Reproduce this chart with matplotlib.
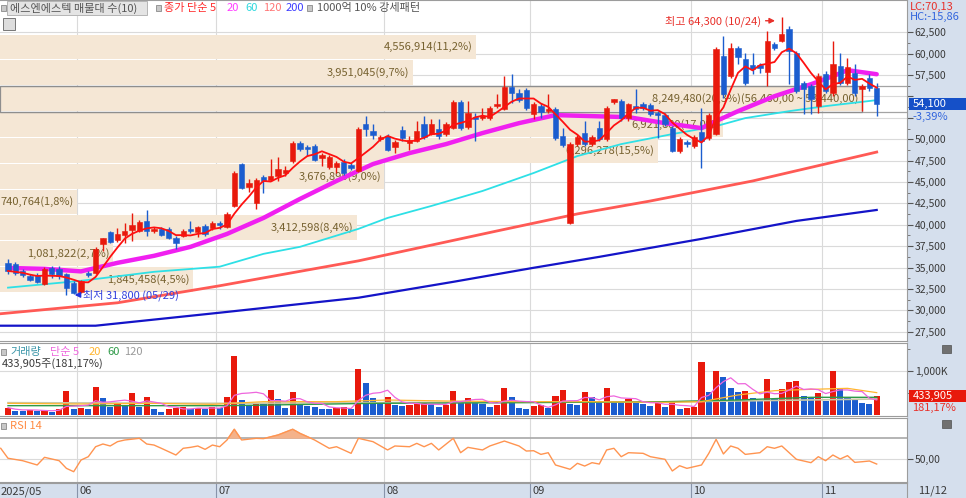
import numpy as np
import pandas as pd
import matplotlib
matplotlib.use('Agg')
import matplotlib.pyplot as plt
from matplotlib.patches import Rectangle

plt.rcParams['font.family'] = ['Noto Sans CJK KR', 'DejaVu Sans']

W, H = 966, 498

# ---- daily candles (2025/05/19 ~ 11/12) ----
opens = [35550, 35450, 34600, 34050, 34150, 33100, 34950, 34850, 34250, 33200,
         32150, 34400, 34400, 37750, 39150, 38250, 38800, 39400, 39300, 40450,
         39300, 39500, 39500, 38450, 38700, 39500, 39150, 39850, 39650, 40200,
         39750, 42200, 47100, 44400, 42550, 45600, 45250, 45700, 46050, 47450,
         49550, 49100, 49200, 47800, 46750, 46750, 47350, 47000, 46300, 51750,
         50950, 50000, 50350, 49100, 51050, 49550, 49800, 51750, 50600, 51200,
         50600, 51300, 54350, 51400, 52600, 52450, 52450, 53850, 53500, 56100,
         55400, 55750, 52950, 53850, 53300, 53500, 50350, 40200, 49450, 50700,
         49450, 51300, 50000, 54350, 54450, 52450, 53850, 54100, 54000, 53050,
         52800, 51300, 48600, 49650, 49200, 50850, 50150, 50600, 59700, 57350,
         60650, 59350, 58650, 58650, 57850, 61100, 61450, 62850, 60050, 56550,
         56200, 53850, 57600, 55400, 58550, 56550, 57700, 55850, 57150, 55950]
highs = [36000, 35650, 34850, 34250, 34400, 35100, 35200, 35200, 34400, 33450,
         33600, 34600, 37400, 38500, 39300, 39650, 40200, 41400, 40550, 41700,
         39750, 39750, 39750, 38700, 39500, 40450, 39850, 40100, 40450, 40450,
         41500, 46300, 47200, 45350, 45450, 45800, 47700, 47900, 46850, 49800,
         49800, 49300, 49450, 48400, 48150, 47450, 47700, 47200, 51400, 52700,
         51750, 50500, 50600, 49900, 51550, 50350, 52100, 52700, 52350, 52350,
         52000, 54550, 54550, 54450, 53050, 53650, 53850, 55250, 57350, 57600,
         55850, 55950, 54350, 54200, 55250, 53750, 51300, 49650, 50500, 52100,
         50500, 52100, 53850, 54700, 54700, 54200, 55850, 54350, 54200, 53300,
         53050, 51550, 50250, 49900, 50500, 53650, 53050, 60750, 62050, 61200,
         60850, 60050, 60050, 58900, 62600, 61350, 64300, 63200, 60300, 56800,
         56450, 57700, 57950, 61450, 60050, 59450, 58750, 56450, 57600, 56550]
lows = [34250, 34150, 33900, 33450, 33200, 33000, 33800, 33700, 31800, 31950,
        32050, 33900, 34250, 36950, 37900, 38000, 37900, 38100, 39150, 38700,
        39050, 38700, 38350, 37200, 38600, 39050, 38600, 38700, 39400, 39500,
        39650, 42100, 44200, 43850, 41850, 43700, 45100, 45100, 45700, 47200,
        48600, 48050, 47450, 46850, 46500, 46050, 45800, 46400, 46150, 50350,
        50000, 49800, 48600, 48400, 49800, 48750, 49650, 50000, 50500, 50000,
        50350, 51200, 51050, 51200, 49800, 52250, 52250, 53650, 53400, 54200,
        54350, 53400, 52350, 52450, 53050, 49900, 49100, 40100, 49200, 49200,
        49200, 49800, 49800, 54100, 52100, 52100, 53050, 53400, 52700, 50150,
        51550, 48500, 48400, 49100, 48950, 46650, 49900, 50500, 54800, 57150,
        58750, 56300, 57600, 57700, 56200, 60400, 61350, 56450, 55400, 52950,
        52950, 53050, 55400, 55050, 56300, 56300, 55050, 53300, 55600, 52700]
closes = [34600, 34400, 34150, 33550, 33350, 34850, 34250, 34050, 32650, 32050,
          33450, 34150, 37200, 38450, 38000, 38950, 39300, 40000, 40350, 39300,
          39500, 38800, 38450, 37900, 39300, 39300, 39750, 38950, 40200, 40000,
          41250, 46050, 44300, 44900, 45250, 45100, 45700, 46500, 46400, 49550,
          48850, 48850, 47550, 48150, 47900, 47200, 46050, 46600, 51200, 51200,
          50500, 50250, 48750, 49650, 50150, 49900, 50950, 50250, 51750, 50350,
          51750, 54350, 51300, 53050, 52350, 52700, 53650, 54100, 56100, 55400,
          54550, 53650, 54100, 53150, 53500, 50150, 49300, 49450, 50250, 49450,
          50250, 50000, 53650, 54700, 52450, 54100, 53500, 53650, 52950, 52800,
          51750, 48600, 50000, 49450, 50250, 49800, 52800, 60500, 55250, 60650,
          59600, 56550, 58200, 58300, 61450, 60650, 62250, 60300, 55600, 55850,
          54700, 57350, 55600, 58750, 56550, 58400, 55400, 56200, 56000, 54100]

# volume, thousand shares
vol_k = [167, 98, 83, 114, 98, 121, 68, 136, 553, 136,
         167, 136, 629, 379, 189, 265, 227, 508, 189, 417,
         129, 76, 136, 152, 189, 136, 167, 129, 174, 167,
         417, 1348, 341, 227, 250, 242, 568, 356, 152, 530,
         250, 212, 189, 136, 129, 152, 189, 129, 1038, 735,
         379, 265, 402, 227, 212, 227, 250, 288, 250, 189,
         227, 553, 303, 379, 303, 250, 189, 227, 606, 402,
         152, 136, 212, 220, 152, 432, 568, 250, 227, 515,
         402, 326, 606, 318, 288, 356, 288, 250, 212, 280,
         189, 288, 136, 167, 189, 1212, 530, 1008, 856, 621,
         530, 545, 379, 326, 811, 356, 583, 758, 773, 432,
         420, 492, 318, 1000, 621, 417, 356, 265, 239.5, 433.905]
prev_vol_k = 136

# moving averages (candle index, price)
ma20_idx = [0, 5, 10, 15, 20, 25, 30, 35, 40, 45, 50, 55, 60, 65, 70, 75, 80, 85, 90,
            95, 97, 100, 105, 110, 113, 115, 119]
ma20_val = [34950, 34850, 34550, 35550, 36370, 37420, 38930, 40800, 43020, 45120,
            47100, 48380, 49430, 50720, 51880, 52820, 52700, 52580, 51880, 51300,
            52120, 53280, 55030, 56430, 57370, 58070, 57600]
ma60_idx = [0, 10, 20, 29, 35, 40, 48, 52, 58, 65, 72, 78, 84, 91, 97, 101, 107, 112, 119]
ma60_val = [32650, 33450, 34500, 35100, 36600, 37420, 39520, 40800, 42200, 43950,
            46050, 48030, 49430, 50600, 51530, 52470, 53280, 53870, 54570]
ma120_idx = [-1, 15, 29, 48, 67, 78, 88, 102, 119]
ma120_val = [29600, 30880, 32870, 35780, 39280, 41270, 42780, 45120, 48500]
ma200_idx = [-1, 12, 29, 48, 61, 72, 81, 95, 108, 119]
ma200_val = [28200, 28200, 29720, 31470, 33330, 34970, 36250, 38350, 40450, 41730]

# volume moving averages (K)
vma20_idx = [0, 10, 20, 28, 35, 45, 52, 60, 70, 80, 90, 95, 100, 105, 110, 115, 119]
vma20_val = [265, 250, 265, 242, 303, 303, 341, 318, 303, 303, 288, 303, 455, 553, 583, 606, 508]
vma60_idx = [0, 30, 50, 70, 90, 100, 110, 119]
vma60_val = [212, 212, 265, 280, 303, 341, 402, 402]
vma120_idx = [0, 30, 60, 90, 119]
vma120_val = [280, 265, 288, 295, 364]

# RSI 14
rsi_idx = [-1, 0, 2, 4, 5, 7, 8, 9, 10, 11, 12, 13, 14, 15, 16, 18, 19, 20, 21, 23,
           24, 25, 26, 27, 28, 29, 30, 31, 32, 34, 35, 37, 39, 40, 41, 42, 44, 45, 47, 48,
           49, 50, 52, 53, 55, 56, 57, 58, 59, 61, 62, 63, 65, 66, 68, 70, 71, 72, 73, 74,
           75, 77, 78, 79, 80, 81, 82, 83, 84, 85, 87, 88, 90, 91, 92, 93, 95, 96, 97, 98,
           99, 100, 101, 103, 104, 105, 106, 108, 110, 111, 112, 113, 114, 115, 116, 117,
           118, 119]
rsi_val = [60.2, 50.7, 48.4, 44.3, 51.6, 48.4, 41.1, 37.9, 49.0, 52.2, 61.7, 64.3, 62.4,
           66.5, 68.1, 69.7, 64.3, 63.3, 60.2, 53.8, 60.2, 61.1, 62.4, 59.2, 63.3, 61.7,
           68.1, 78.3, 68.1, 69.7, 69.4, 72.9, 78.3, 74.4, 71.3, 68.1, 60.2, 61.7, 55.4,
           69.7, 68.1, 66.5, 58.6, 62.4, 61.7, 64.9, 61.7, 64.9, 58.6, 69.7, 56.0, 61.1,
           58.6, 62.4, 67.1, 62.4, 57.6, 57.9, 54.4, 56.0, 44.3, 40.2, 45.9, 43.3, 46.5,
           45.2, 58.6, 60.2, 52.2, 56.0, 55.4, 52.2, 49.7, 38.6, 43.6, 41.1, 44.3, 55.4,
           68.7, 54.8, 62.4, 60.2, 54.4, 56.0, 61.7, 60.2, 62.4, 49.7, 46.5, 52.2, 48.4,
           53.8, 50.0, 53.2, 46.8, 47.4, 48.1, 45.2]

# 매물대 (volume by price), bottom band first
band_vol = [1845458, 1081822, 3412598, 740764, 3676895, 6296278, 6921880, 8249480, 3951045, 4556914]
band_lo, band_step = 32100, 3020
band_range_txt = '56,460,00 ~ 53,440,00'

month_pos = [9.5, 28.5, 51.5, 71.5, 93.5, 111.5]
month_lbl = ['06', '07', '08', '09', '10', '11']
first_lbl, last_lbl = '2025/05', '11/12'
hi_date, lo_date = '10/24', '05/29'

UP, DN = '#E8190C', '#1B5DCF'
GRID = '#DADADA'
TXT = '#3A3A3A'

fig = plt.figure(figsize=(W / 100, H / 100), dpi=100, facecolor='#D5DFED')


def px_ax(left, top, width, height, **kw):
    return fig.add_axes([left / W, 1 - (top + height) / H, width / W, height / H], **kw)


def fig_rect(x0, y0, x1, y1, **kw):
    fig.add_artist(Rectangle((x0 / W, 1 - y1 / H), (x1 - x0) / W, (y1 - y0) / H,
                             transform=fig.transFigure, **kw))


def fig_txt(x, y, s, **kw):
    kw.setdefault('fontsize', 8)
    fig.text(x / W, 1 - y / H, s, va='center', **kw)


fig_rect(0, 0, 907, 483, facecolor='white', edgecolor='none', zorder=-5)

xlim = (-8 / 7.3, (907 - 8) / 7.3)
n = len(closes)
x = np.arange(n)
o, hgh, low, c = map(np.array, (opens, highs, lows, closes))

ax = px_ax(0, 0, 907, 341)
axv = px_ax(0, 343, 907, 73)
axr = px_ax(0, 418, 907, 64)
axd = px_ax(0, 483, 907, 15, facecolor='#D5DFED')

for a in (ax, axv, axr, axd):
    a.set_xlim(*xlim)
    a.set_xticks([])
    a.spines['left'].set_visible(False)
    for s in ('top', 'bottom', 'right'):
        a.spines[s].set_color('#9C9C9C')
    a.set_axisbelow(True)

# ---- price panel ----
ax.set_ylim(26412, 66276)
pt = np.arange(27500, 62501, 2500)
ax.set_yticks(pt)
# labels hidden behind the last-price box are left blank
ax.set_yticklabels(['' if c[-1] - 2200 < v < c[-1] + 1300 else f'{v:,}' for v in pt])
ax.set_yticks(pt[:-1] + 1250, minor=True)
for v in pt:
    ax.axhline(v, color=GRID, lw=0.8, zorder=0)
for a in (ax, axv, axr):
    for m in month_pos:
        a.axvline(m, color=GRID, lw=0.8, zorder=0)

centers = band_lo + band_step * (np.arange(len(band_vol)) + 0.5)
bw = np.array(band_vol) / max(band_vol) * (862 / 7.3)
ax.barh(centers, bw, height=band_step * 0.962, left=xlim[0], color='#F5E7D5', zorder=0.6)
tot = sum(band_vol)
cur = int((c[-1] - band_lo) // band_step)
for k, (cy, w, v) in enumerate(zip(centers, bw, band_vol)):
    lbl = f'{v:,}({v / tot * 100:.1f}%)'.replace('.', ',')
    if k == cur:
        lbl += f'({band_range_txt})'
    ax.text(xlim[0] + w - 0.45, cy, lbl, ha='right', va='center', fontsize=8,
            color='#76612F', zorder=1)
cur_lo = band_lo + cur * band_step
ax.add_patch(Rectangle((xlim[0], cur_lo), bw[cur], band_step, fill=False,
                       edgecolor='#8E8E8E', lw=0.9, zorder=0.7))
ax.axhline(cur_lo, color='#A4A4A4', lw=0.9, zorder=0.65)
ax.axhline(cur_lo + band_step, color='#A4A4A4', lw=0.9, zorder=0.65)

ax.plot(ma200_idx, ma200_val, color='#1414C8', lw=1.6, zorder=2)
ax.plot(ma120_idx, ma120_val, color='#FF5A55', lw=2.0, zorder=2)
ax.plot(ma60_idx, ma60_val, color='#2EE0E6', lw=1.3, zorder=2)
ax.plot(ma20_idx, ma20_val, color='#F020F0', lw=3.2, zorder=2, solid_capstyle='round')

cols = np.where(c >= o, UP, DN)
ax.vlines(x, low, hgh, color=cols, lw=1.0, zorder=3)
ax.bar(x, np.maximum(np.abs(c - o), 80), bottom=np.minimum(o, c), width=0.72,
       color=cols, edgecolor=cols, lw=0.4, zorder=4)
ma5 = pd.Series(closes).rolling(5, min_periods=1).mean()
ax.plot(x, ma5, color='#FF1010', lw=1.3, zorder=5)

# highest / lowest marks
ih, il = int(np.argmax(hgh)), int(np.argmin(low))
yh = hgh[ih] - 450
ax.annotate('', xy=(ih - 0.55, yh), xytext=(ih - 2.6, yh),
            arrowprops=dict(arrowstyle='-|>', color='#E8302A', lw=1, mutation_scale=8), zorder=6)
ax.text(ih - 2.8, yh, f'최고 {hgh[ih]:,} ({hi_date})', ha='right', va='center',
        fontsize=8, color='#E8302A', zorder=6)
ax.annotate('', xy=(il + 0.75, low[il]), xytext=(il + 2.2, low[il]),
            arrowprops=dict(arrowstyle='-|>', color='#2233DD', lw=1, mutation_scale=8), zorder=6)
ax.text(il + 2.3, low[il], f'최저 {low[il]:,} ({lo_date})', ha='left', va='center',
        fontsize=8, color='#3340DD', zorder=6)

# ---- volume panel ----
axv.set_ylim(-22.7, 1636)
vprev = np.r_[prev_vol_k, vol_k[:-1]]
vcols = np.where(np.array(vol_k) >= vprev, UP, DN)
axv.bar(x, vol_k, width=0.84, color=vcols, zorder=2)
axv.axhline(1000, color=GRID, lw=0.8, zorder=0)
axv.plot(vma120_idx, vma120_val, color='#C9C9A8', lw=1.2, zorder=3)
axv.plot(vma60_idx, vma60_val, color='#2E9A48', lw=1.0, zorder=3)
axv.plot(vma20_idx, vma20_val, color='#FFB52E', lw=0.9, zorder=3)
vma5 = pd.Series(vol_k).rolling(5, min_periods=1).mean()
axv.plot(x, vma5, color='#EE66DD', lw=0.9, zorder=3)
axv.set_yticks([1000])
axv.set_yticklabels(['1,000K'])
axv.set_yticks([500, 1500], minor=True)

# ---- RSI panel ----
axr.set_ylim(28.1, 89.05)
rv = np.array(rsi_val)
axr.axhline(50, color=GRID, lw=0.8, zorder=0)
axr.axhline(70, color='#A8A8A8', lw=1.2, zorder=1)
axr.fill_between(rsi_idx, rv, 70, where=rv > 70, interpolate=True, color='#F4B28A', zorder=2)
axr.plot(rsi_idx, rv, color='#FF9450', lw=1.0, zorder=3)
axr.set_yticks([50])
axr.set_yticklabels(['50,00'])

for a in (ax, axv, axr):
    a.yaxis.tick_right()
    a.tick_params(axis='y', which='major', length=4, width=0.8, color='#555555',
                  labelsize=7.5, labelcolor=TXT, pad=1.5)
    a.tick_params(axis='y', which='minor', length=2, width=0.7, color='#777777')

# ---- date strip ----
axd.set_ylim(0, 1)
axd.set_yticks([])
axd.spines['bottom'].set_visible(False)
axd.vlines(month_pos, 0, 1, color='#8894AA', lw=0.8)
axd.text(xlim[0] + 0.05, 0.45, first_lbl, ha='left', va='center', fontsize=8, color=TXT)
for m, t in zip(month_pos, month_lbl):
    axd.text(m + 0.3, 0.45, t, ha='left', va='center', fontsize=8, color=TXT)
fig_txt(918, 491, last_lbl, color=TXT)

# ---- right side value boxes ----
pct = (c[-1] / c[-2] - 1) * 100
tr = ax.get_yaxis_transform()
ax.add_patch(Rectangle((1.002, c[-1] - 700), 0.07, 1400, transform=tr, clip_on=False,
                       facecolor='#1550C8', edgecolor='none', zorder=10))
ax.text(1.006, c[-1], f'{c[-1]:,}', transform=tr, ha='left', va='center', fontsize=8,
        color='white', zorder=11, clip_on=False)
ax.text(1.006, c[-1] - 1450, f'{pct:.2f}%'.replace('.', ','), transform=tr, ha='left',
        va='center', fontsize=8, color='#3366DD', zorder=11, clip_on=False)

vr = vol_k[-1] / vol_k[-2] * 100
trv = axv.get_yaxis_transform()
vlast = vol_k[-1]
axv.add_patch(Rectangle((1.002, vlast - 135), 0.07, 270, transform=trv, clip_on=False,
                        facecolor='#E8190C', edgecolor='none', zorder=10))
axv.text(1.006, vlast, f'{round(vlast * 1000):,}', transform=trv, ha='left', va='center',
         fontsize=8, color='white', zorder=11, clip_on=False)
axv.text(1.006, vlast - 270, f'{vr:.2f}%'.replace('.', ','), transform=trv, ha='left',
         va='center', fontsize=8, color='#E8302A', zorder=11, clip_on=False)

fig_txt(910, 7, 'LC:70,13', color='#E8302A')
fig_txt(910, 17, 'HC:-15,86', color='#3366DD')
fig_rect(942, 345, 951, 353, facecolor='#707070', edgecolor='#505050', lw=0.5)
fig_rect(942, 420, 951, 428, facecolor='#707070', edgecolor='#505050', lw=0.5)


# ---- legends ----
def marker(xp, yp):
    fig_rect(xp, yp - 3, xp + 5, yp + 3, facecolor='#C8C8C8', edgecolor='#8A8A8A', lw=0.6)


marker(1, 8)
fig_rect(7, 1, 147, 15, facecolor='#E4E4E4', edgecolor='#B5B5B5', lw=0.7)
fig_txt(10, 8, '에스엔에스텍 매물대 수(10)', color='#555555')
marker(156, 8)
fig_txt(164, 8, '종가 단순 5', color='#FF2A2A')
fig_txt(227, 8, '20', color='#FF3CFF')
fig_txt(245, 8, '60', color='#2ED8DE')
fig_txt(263, 8, '120', color='#FF7575')
fig_txt(286, 8, '200', color='#3C3CFF')
marker(307, 8)
fig_txt(317, 8, '1000억 10% 강세패턴', color='#555555')
fig_rect(3, 18, 15, 30, facecolor='#DDDDDD', edgecolor='#777777', lw=0.7)

marker(1, 352)
fig_txt(10, 352, '거래량', color='#3A95A8')
fig_txt(50, 352, '단순 5', color='#EE66DD')
fig_txt(89, 352, '20', color='#FFB52E')
fig_txt(107, 352, '60', color='#2E9A48')
fig_txt(124, 352, '120', color='#9A9A9A')
fig_txt(2, 364, f'{round(vlast * 1000):,}주({vr:.2f}%)'.replace('.', ','), color=TXT)

marker(1, 426)
fig_txt(10, 426, 'RSI 14', color='#FF8A40')

fig.savefig('out.png', dpi=100, facecolor=fig.get_facecolor())
